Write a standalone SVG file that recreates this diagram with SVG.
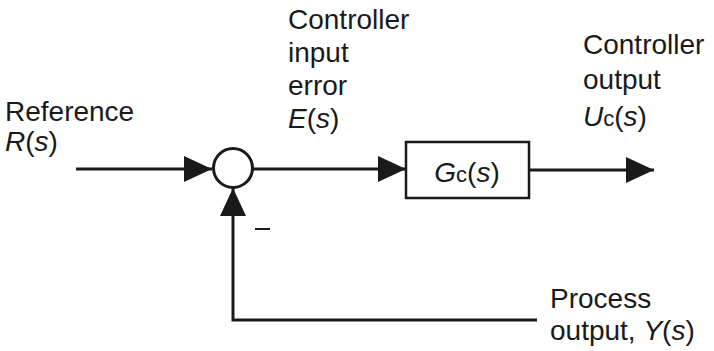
<svg xmlns="http://www.w3.org/2000/svg" width="714" height="351" viewBox="0 0 714 351">
<style>
text{font-family:"Liberation Sans",Arial,sans-serif;font-size:28px;fill:#1a1a1a}
.i{font-style:italic}
.sub{font-size:22px}
.ln{stroke:#1a1a1a;stroke-width:3;fill:none}
</style>
<defs>
<marker id="ah" markerUnits="userSpaceOnUse" markerWidth="28" markerHeight="26" refX="28" refY="13" orient="auto">
<path d="M0,0 L28,13 L0,26 Z" fill="#1a1a1a"/>
</marker>
</defs>
<rect width="714" height="351" fill="#fff"/>
<g id="connectors">
<line class="ln" x1="76" y1="169" x2="212" y2="169" marker-end="url(#ah)"/>
<line class="ln" x1="253" y1="169" x2="406" y2="169" marker-end="url(#ah)"/>
<line class="ln" x1="529" y1="170" x2="654" y2="170" marker-end="url(#ah)"/>
<polyline class="ln" points="537,320 233,320 233,188" marker-end="url(#ah)"/>
</g>
<g id="sum">
<circle cx="233" cy="168" r="19.5" fill="#fff" stroke="#1a1a1a" stroke-width="3"/>
<line x1="255" y1="229" x2="270" y2="229" stroke="#1a1a1a" stroke-width="2"/>
</g>
<g id="controller">
<rect x="406" y="142" width="123" height="56" fill="#fff" stroke="#1a1a1a" stroke-width="2.5"/>
<text x="467" y="182" text-anchor="middle"><tspan class="i">G</tspan><tspan class="sub">c</tspan>(<tspan class="i">s</tspan>)</text>
</g>
<g id="label-reference">
<text x="5" y="121">Reference</text>
<text x="5" y="151"><tspan class="i">R</tspan>(<tspan class="i">s</tspan>)</text>
</g>
<g id="label-error">
<text x="288" y="29">Controller</text>
<text x="288" y="62">input</text>
<text x="288" y="95">error</text>
<text x="288" y="128"><tspan class="i">E</tspan>(<tspan class="i">s</tspan>)</text>
</g>
<g id="label-output">
<text x="583" y="54">Controller</text>
<text x="583" y="89">output</text>
<text x="583" y="126"><tspan class="i">U</tspan><tspan class="sub">c</tspan>(<tspan class="i">s</tspan>)</text>
</g>
<g id="label-process">
<text x="550" y="308">Process</text>
<text x="550" y="340">output, <tspan class="i">Y</tspan>(<tspan class="i">s</tspan>)</text>
</g>
</svg>
